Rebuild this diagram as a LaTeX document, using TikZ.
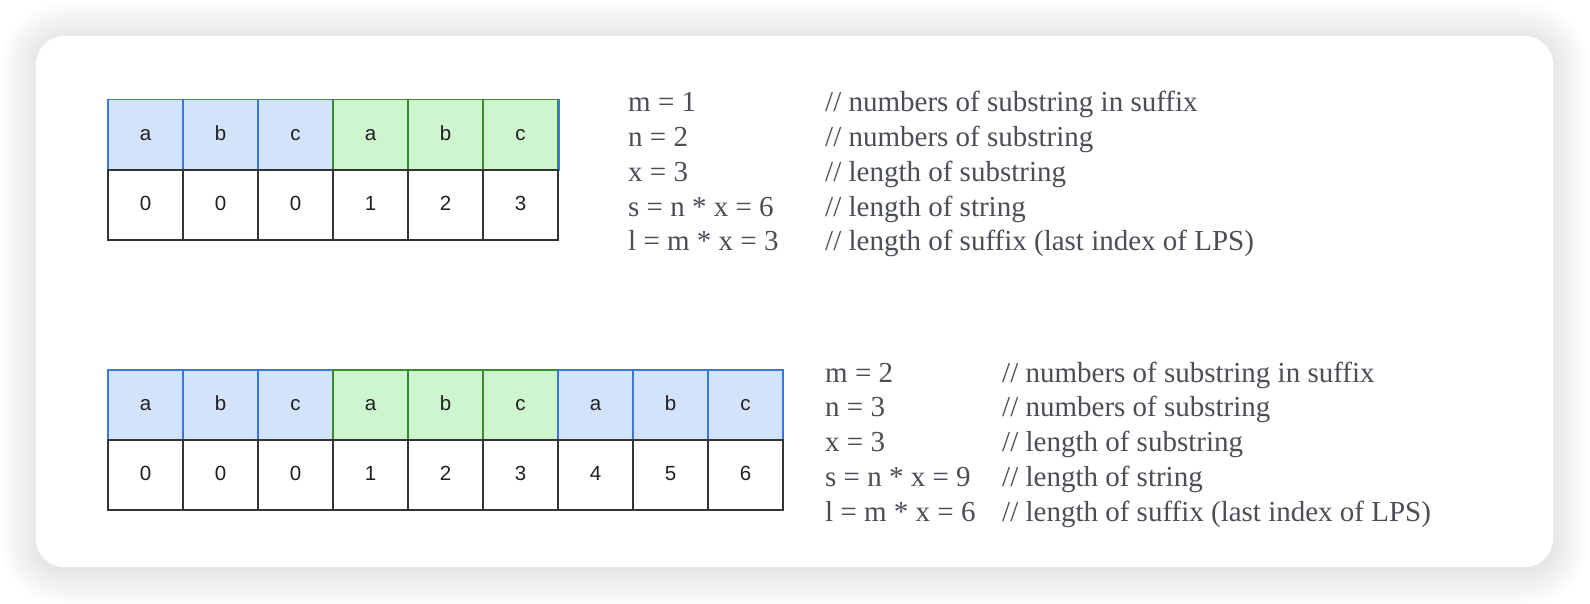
\documentclass[tikz,border=0pt]{standalone}
\usepackage{fontspec}
\setmainfont{Liberation Serif}
\newfontfamily\cellfont{Liberation Sans}
\definecolor{blueFill}{HTML}{D4E3FC}
\definecolor{blueLine}{HTML}{3C78D8}
\definecolor{greenFill}{HTML}{CDF6CE}
\definecolor{greenLine}{HTML}{3A8C2A}
\definecolor{darkLine}{HTML}{333333}
\definecolor{noteGrey}{HTML}{4A4E55}
\definecolor{cellText}{HTML}{1F1F1F}
\tikzset{
  cellbase/.style={minimum width=75pt, inner sep=0pt, line width=1.5pt,
    text height=11pt, text depth=0pt,
    font=\cellfont\fontsize{20.5}{22}\selectfont, text=cellText},
  bluecell/.style={cellbase, draw=blueLine, fill=blueFill, minimum height=70.6pt},
  greencell/.style={cellbase, draw=greenLine, fill=greenFill, minimum height=70.6pt},
  valcell/.style={cellbase, draw=darkLine, fill=white, minimum height=70pt},
  note/.style={anchor=base west, inner sep=0pt, text=noteGrey,
    font=\fontsize{29}{34}\selectfont},
}
\begin{document}
\begin{tikzpicture}[x=1pt,y=-1pt]
\useasboundingbox (0,0) rectangle (1590,604);
% soft shadow of the card
\foreach \i [evaluate=\i as \r using 28+1.5*\i] in {1,...,24}{
  \fill[black, opacity=0.0048, rounded corners=\r pt]
    ({36-1.5*\i},{38-1.5*\i}) rectangle ({1553+1.5*\i},{570+1.5*\i});
}
% card
\fill[white, rounded corners=28pt] (36,36) rectangle (1553,567);

% ---------- table 1 ----------
\foreach \i/\l/\s in {1/a/bluecell,2/b/bluecell,3/c/bluecell,4/a/greencell,5/b/greencell,6/c/greencell}{
  \node[\s] (ta\i) at ({108+75*(\i-0.5)},134.7) {\l};
}
\draw[blueLine, line width=1.5pt] (ta6.north east) -- (ta6.south east);
\foreach \i/\v in {1/0,2/0,3/0,4/1,5/2,6/3}{
  \node[valcell] (va\i) at ({108+75*(\i-0.5)},205) {\v};
}

% ---------- table 2 ----------
\foreach \i/\l/\s in {1/a/bluecell,2/b/bluecell,3/c/bluecell,4/a/greencell,5/b/greencell,6/c/greencell,7/a/bluecell,8/b/bluecell,9/c/bluecell}{
  \node[\s] (tb\i) at ({108+75*(\i-0.5)},405.3) {\l};
}
\foreach \i/\v in {1/0,2/0,3/0,4/1,5/2,6/3,7/4,8/5,9/6}{
  \node[valcell] (vb\i) at ({108+75*(\i-0.5)},475) {\v};
}

% ---------- notes 1 ----------
\node[note] (na1) at (628,112)    {m = 1};
\node[note] (na2) at (628,146.75) {n = 2};
\node[note] (na3) at (628,181.5)  {x = 3};
\node[note] (na4) at (628,216.25) {s = n * x = 6};
\node[note] (na5) at (628,251)    {l = m * x = 3};
\node[note] (ca1) at (825,112)    {// numbers of substring in suffix};
\node[note] (ca2) at (825,146.75) {// numbers of substring};
\node[note] (ca3) at (825,181.5)  {// length of substring};
\node[note] (ca4) at (825,216.25) {// length of string};
\node[note] (ca5) at (825,251)    {// length of suffix (last index of LPS)};

% ---------- notes 2 ----------
\node[note] (nb1) at (825,382)    {m = 2};
\node[note] (nb2) at (825,416.75) {n = 3};
\node[note] (nb3) at (825,451.5)  {x = 3};
\node[note] (nb4) at (825,486.25) {s = n * x = 9};
\node[note] (nb5) at (825,521)    {l = m * x = 6};
\node[note] (cb1) at (1002,382)    {// numbers of substring in suffix};
\node[note] (cb2) at (1002,416.75) {// numbers of substring};
\node[note] (cb3) at (1002,451.5)  {// length of substring};
\node[note] (cb4) at (1002,486.25) {// length of string};
\node[note] (cb5) at (1002,521)    {// length of suffix (last index of LPS)};
\end{tikzpicture}
\end{document}
